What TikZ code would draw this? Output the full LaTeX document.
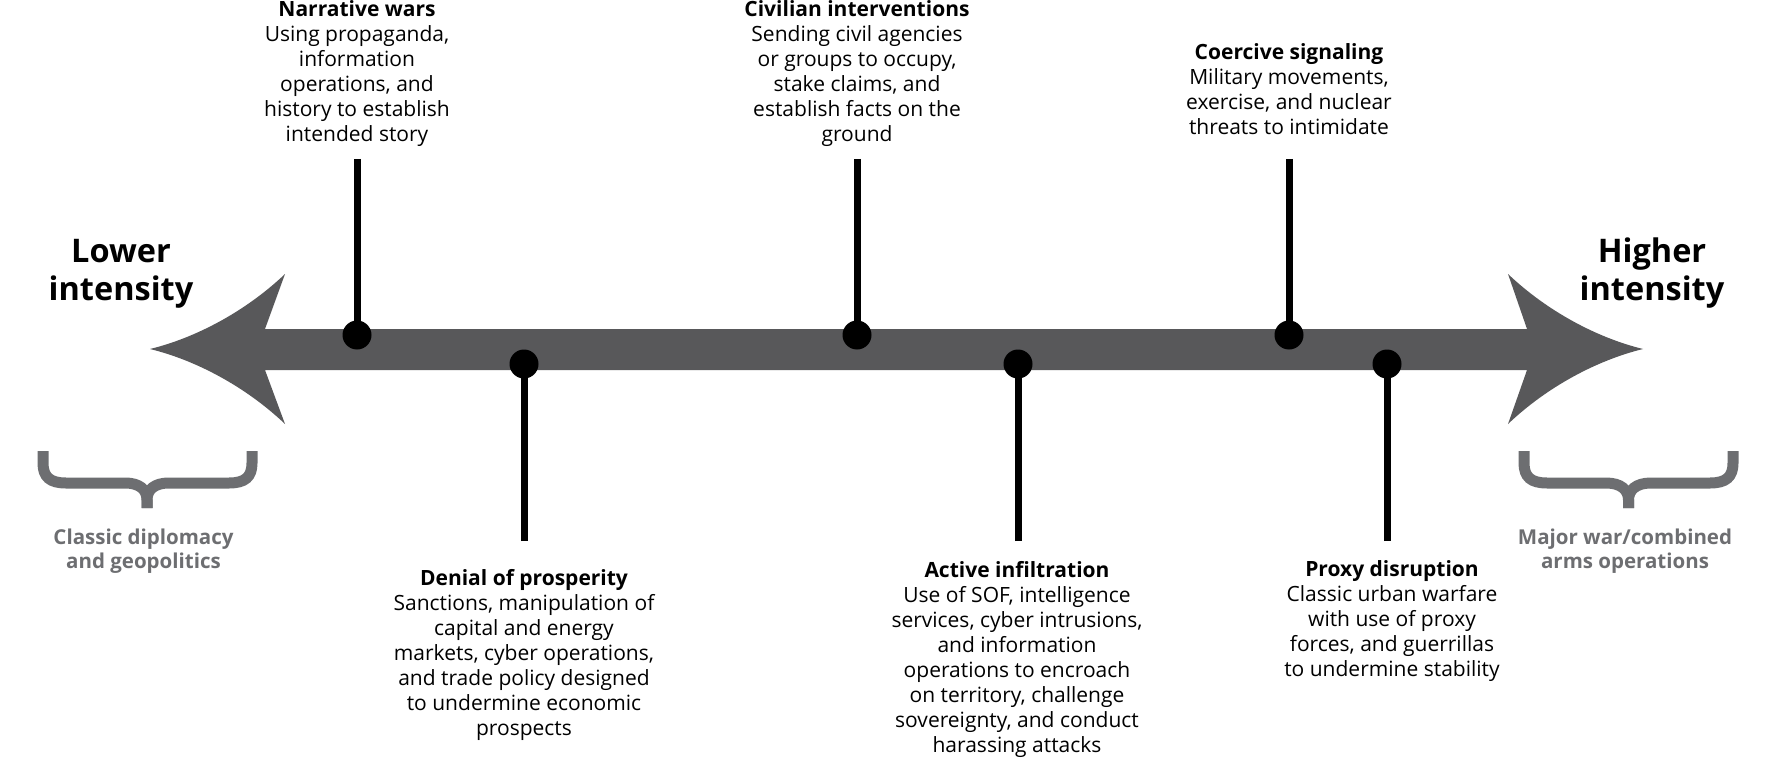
\documentclass[tikz,border=0pt]{standalone}
\usepackage{fontspec}
\setmainfont{Open Sans}
\definecolor{arrowgray}{HTML}{58585A}
\definecolor{bracegray}{HTML}{6D6E71}
\tikzset{
  desc/.style={align=center, inner sep=0pt, anchor=base, font=\fontsize{21}{25}\selectfont},
  endlbl/.style={align=center, inner sep=0pt, anchor=base, font=\bfseries\fontsize{32.5}{38}\selectfont},
  graylbl/.style={align=center, inner sep=0pt, anchor=base, text=bracegray, font=\bfseries\fontsize{20.5}{24}\selectfont},
  stem/.style={line width=7pt},
  dotmark/.style={circle, fill=black, minimum size=29pt, inner sep=0pt},
  brace/.style={draw=bracegray, line width=11pt},
}
\begin{document}
\begin{tikzpicture}[x=1pt,y=-1pt]
\useasboundingbox (0,0) rectangle (1768,778);
% main double arrow
\fill[arrowgray] (150,349) .. controls (195,338) and (245,312) .. (285,274) -- (265,329)
  -- (1527,329) -- (1508,274) .. controls (1548,312) and (1598,338) .. (1643,349)
  .. controls (1598,360) and (1548,386) .. (1508,424) -- (1527,370)
  -- (265,370) -- (285,424) .. controls (245,386) and (195,360) .. (150,349) -- cycle;
% dots
\node[dotmark] (d1) at (357,335) {};
\node[dotmark] (d2) at (524,364) {};
\node[dotmark] (d3) at (857,335) {};
\node[dotmark] (d4) at (1018,364) {};
\node[dotmark] (d5) at (1289,335) {};
\node[dotmark] (d6) at (1387,364) {};
\coordinate (e1) at (357,159);
\coordinate (e2) at (524,541);
\coordinate (e3) at (857,159);
\coordinate (e4) at (1018,541);
\coordinate (e5) at (1289,159);
\coordinate (e6) at (1387,541);
\foreach \i in {1,...,6} {\draw[stem] (e\i) -- (d\i.center);}
% texts above (base anchor = last line baseline)
\node[desc] (t1) at (357,142) {\textbf{Narrative wars}\\Using propaganda,\\information\\operations, and\\history to establish\\intended story};
\node[desc] (t3) at (857,142) {\textbf{Civilian interventions}\\Sending civil agencies\\or groups to occupy,\\stake claims, and\\establish facts on the\\ground};
\node[desc] (t5) at (1289,135) {\textbf{Coercive signaling}\\Military movements,\\exercise, and nuclear\\threats to intimidate};
% texts below
\node[desc] (t2) at (524,735) {\textbf{Denial of prosperity}\\Sanctions, manipulation of\\capital and energy\\markets, cyber operations,\\and trade policy designed\\to undermine economic\\prospects};
\node[desc] (t4) at (1017,752) {\textbf{Active infiltration}\\Use of SOF, intelligence\\services, cyber intrusions,\\and information\\operations to encroach\\on territory, challenge\\sovereignty, and conduct\\harassing attacks};
\node[desc] (t6) at (1392,676) {\textbf{Proxy disruption}\\Classic urban warfare\\with use of proxy\\forces, and guerrillas\\to undermine stability};
% end labels
\node[endlbl] (lo) at (121,300) {Lower\\intensity};
\node[endlbl] (hi) at (1652,300) {Higher\\intensity};
% braces
\draw[brace] (43,451) -- (43,463) .. controls (43,477) and (50,483) .. (66,483) -- (125,483) .. controls (140,483) and (147,490) .. (147,500) -- (147,508);
\draw[brace] (252,451) -- (252,463) .. controls (252,477) and (245,483) .. (229,483) -- (169,483) .. controls (154,483) and (147,490) .. (147,500) -- (147,508);
\draw[brace] (1524,451) -- (1524,463) .. controls (1524,477) and (1531,483) .. (1547,483) -- (1606,483) .. controls (1621,483) and (1628.5,490) .. (1628.5,500) -- (1628.5,508);
\draw[brace] (1733,451) -- (1733,463) .. controls (1733,477) and (1726,483) .. (1710,483) -- (1651,483) .. controls (1636,483) and (1628.5,490) .. (1628.5,500) -- (1628.5,508);
\node[graylbl] (gl) at (143.5,568) {Classic diplomacy\\and geopolitics};
\node[graylbl] (gr) at (1625,568) {Major war/combined\\arms operations};
\end{tikzpicture}
\end{document}
